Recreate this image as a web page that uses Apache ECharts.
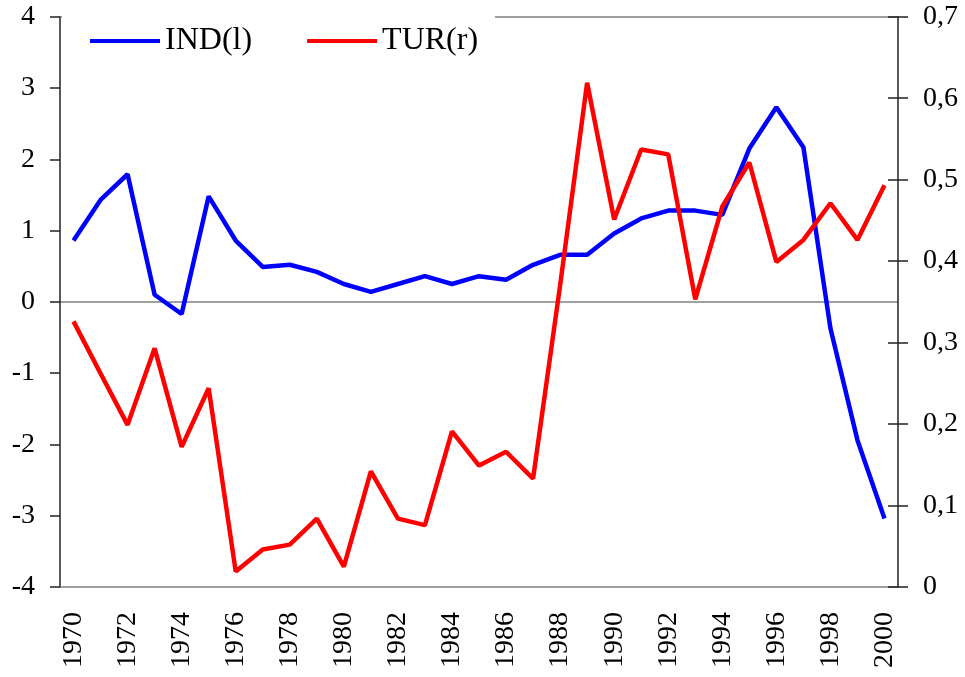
<!DOCTYPE html>
<html>
<head>
<meta charset="utf-8">
<script src="https://cdn.jsdelivr.net/npm/echarts@6/dist/echarts.min.js"></script>
<style>
  html, body { margin: 0; padding: 0; background: #fff; }
  #chart { width: 965px; height: 677px; }
</style>
</head>
<body>
<div id="chart"></div>
<script>
const years = [];
for (let y = 1970; y <= 2000; y++) years.push(String(y));

// IND, left axis
const indValues = [
    0.86, 1.43, 1.79, 0.10, -0.17, 1.48, 0.86, 0.49, 0.52, 0.42,
    0.25, 0.14, 0.25, 0.36, 0.25, 0.36, 0.31, 0.52, 0.66, 0.66,
    0.96, 1.17, 1.28, 1.28, 1.22, 2.15, 2.73, 2.17, -0.37, -1.94,
    -3.04
];

// TUR, right axis
const turValues = [
    0.326, 0.262, 0.199, 0.293, 0.172, 0.244, 0.019, 0.046, 0.052, 0.084,
    0.025, 0.142, 0.084, 0.076, 0.191, 0.149, 0.166, 0.133, 0.370, 0.619,
    0.451, 0.537, 0.531, 0.353, 0.467, 0.521, 0.399, 0.426, 0.471, 0.426,
    0.493
];

const fontFamily = "'Liberation Serif', 'DejaVu Serif', serif";

const chart = echarts.init(document.getElementById('chart'));

// only the zero line is drawn (index 4 of -4..4)
const zeroLineColors = ['transparent', 'transparent', 'transparent', 'transparent', '#808080',
    'transparent', 'transparent', 'transparent', 'transparent'];

const option = {
    animation: false,
    grid: {
        left: 60,
        right: 67,
        top: 16.7,
        bottom: 90
    },
    legend: {
        left: 62,
        top: 13,
        padding: [12, 17, 10, 28],
        backgroundColor: '#fff',
        itemWidth: 70,
        itemHeight: 4,
        itemGap: 55,
        icon: 'rect',
        textStyle: {
            fontFamily: fontFamily,
            fontSize: 32,
            color: '#000'
        },
        data: ['IND(l)', 'TUR(r)']
    },
    xAxis: [
        {
            type: 'category',
            data: years,
            boundaryGap: true,
            axisLine: { onZero: false, lineStyle: { color: '#808080', width: 1.5 } },
            axisTick: { show: false },
            axisLabel: {
                rotate: 90,
                interval: 1,
                margin: 25,
                fontFamily: fontFamily,
                fontSize: 28,
                color: '#000'
            }
        },
        {
            type: 'category',
            data: years,
            position: 'top',
            axisLine: { onZero: false, lineStyle: { color: '#808080', width: 1.5 } },
            axisTick: { show: false },
            axisLabel: { show: false }
        }
    ],
    yAxis: [
        {
            type: 'value',
            min: -4,
            max: 4,
            interval: 1,
            position: 'left',
            axisLine: { show: true, onZero: false, lineStyle: { color: '#222', width: 1.5 } },
            axisTick: { show: true, length: 10, lineStyle: { color: '#222', width: 1.5 } },
            splitLine: { show: true, lineStyle: { color: zeroLineColors, width: 1.5 } },
            axisLabel: {
                margin: 25,
                fontFamily: fontFamily,
                fontSize: 28,
                color: '#000'
            }
        },
        {
            type: 'value',
            min: 0,
            max: 0.7,
            interval: 0.1,
            position: 'right',
            axisLine: { show: true, onZero: false, lineStyle: { color: '#222', width: 1.5 } },
            axisTick: { show: true, length: 10, lineStyle: { color: '#222', width: 1.5 } },
            splitLine: { show: false },
            axisLabel: {
                margin: 25,
                fontFamily: fontFamily,
                fontSize: 28,
                color: '#000',
                formatter: v => (v === 0 ? '0' : v.toFixed(1).replace('.', ','))
            }
        },
        {
            // inner half of the crossing ticks on the right axis
            type: 'value',
            min: 0,
            max: 0.7,
            interval: 0.1,
            position: 'right',
            axisLine: { show: false },
            axisTick: { show: true, inside: true, length: 10, lineStyle: { color: '#222', width: 1.5 } },
            splitLine: { show: false },
            axisLabel: { show: false }
        }
    ],
    series: [
        {
            name: 'IND(l)',
            type: 'line',
            yAxisIndex: 0,
            data: indValues,
            symbol: 'none',
            color: '#0000ff',
            lineStyle: { width: 4.5, color: '#0000ff' }
        },
        {
            name: 'TUR(r)',
            type: 'line',
            yAxisIndex: 1,
            data: turValues,
            symbol: 'none',
            color: '#ff0000',
            lineStyle: { width: 4.5, color: '#ff0000' }
        }
    ]
};

chart.setOption(option);
</script>
</body>
</html>
